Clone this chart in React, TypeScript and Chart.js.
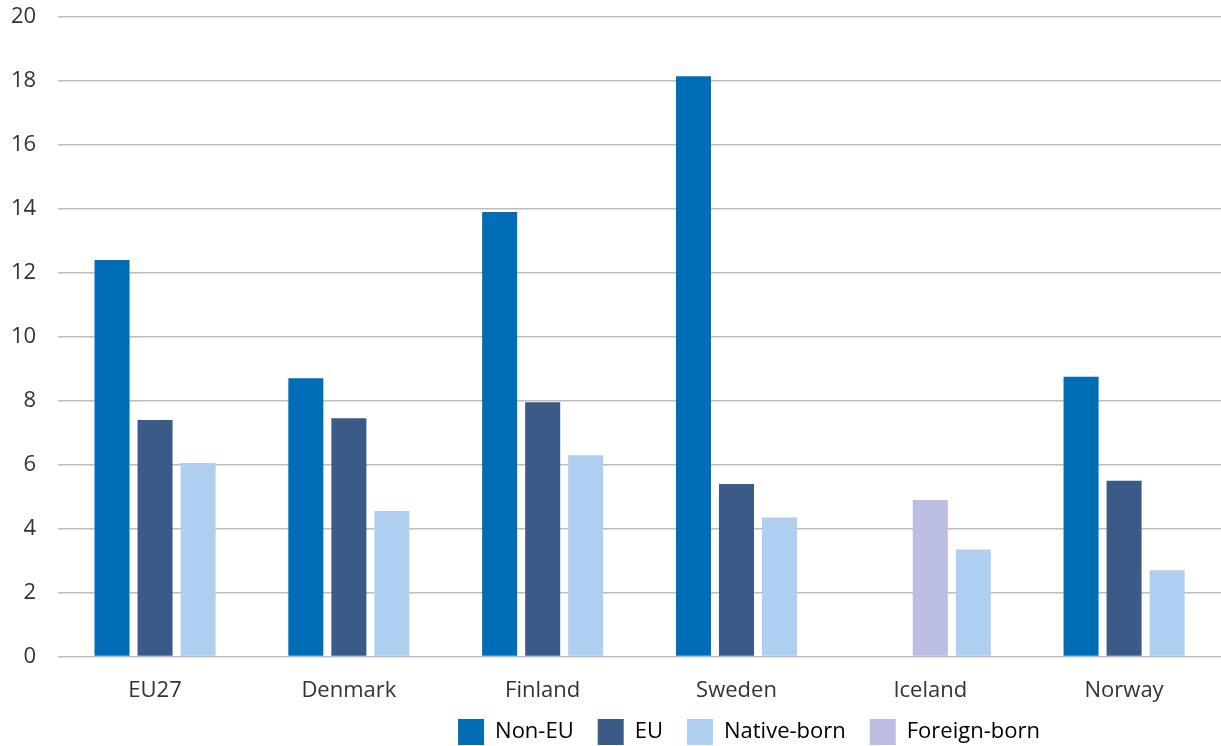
import React, { useEffect, useRef } from "react";
import { Chart, registerables } from "chart.js";

Chart.register(...registerables);

const categories = ["EU27", "Denmark", "Finland", "Sweden", "Iceland", "Norway"];
const nonEU = [12.4, 8.7, 13.9, 18.15, null, 8.75];
const eu = [7.4, 7.45, 7.95, 5.4, null, 5.5];
const foreignBorn = [null, null, null, null, 4.9, null];
const nativeBorn = [6.05, 4.55, 6.3, 4.35, 3.35, 2.7];
const yTicks = [0, 2, 4, 6, 8, 10, 12, 14, 16, 18, 20];

const C_NONEU = "#006EB6";
const C_EU = "#3A5A87";
const C_NATIVE = "#AECFF0";
const C_FOREIGN = "#BBBDE2";

const FONT = "'Open Sans', sans-serif";
const LEGEND_PAD = 24;

const legendShift = {
  id: "legendShift",
  afterLayout(chart: any) {
    const lg = chart.legend;
    if (lg) {
      lg.left += 144;
      lg.right += 144;
      const h = lg.bottom - lg.top;
      lg.top = 719 - LEGEND_PAD;
      lg.bottom = lg.top + h;
    }
  },
};

export default function App() {
  const ref = useRef<HTMLCanvasElement>(null);
  useEffect(() => {
    document.body.style.margin = "0";
    const euMerged = eu.map((v, i) => (v == null ? foreignBorn[i] : v));
    const euColors = eu.map((v, i) => (v == null && foreignBorn[i] != null ? C_FOREIGN : C_EU));
    const chart = new Chart(ref.current as HTMLCanvasElement, {
      type: "bar",
      data: {
        labels: categories,
        datasets: [
          { label: "Non-EU", data: nonEU, backgroundColor: C_NONEU },
          { label: "EU", data: euMerged, backgroundColor: euColors },
          { label: "Native-born", data: nativeBorn, backgroundColor: C_NATIVE },
        ],
      },
      plugins: [legendShift],
      options: {
        animation: false,
        responsive: true,
        maintainAspectRatio: false,
        datasets: { bar: { categoryPercentage: 0.666, barPercentage: 0.814 } },
        layout: { padding: { top: 0, left: -11, right: 0, bottom: -31 } },
        plugins: {
          tooltip: { enabled: false },
          legend: {
            position: "bottom",
            labels: {
              font: { family: FONT, size: 22 },
              color: "#333333",
              boxWidth: 26,
              boxHeight: 26,
              padding: LEGEND_PAD,
              generateLabels: () => [
                { text: "Non-EU", fillStyle: C_NONEU, strokeStyle: C_NONEU, lineWidth: 0, datasetIndex: 0 },
                { text: "EU", fillStyle: C_EU, strokeStyle: C_EU, lineWidth: 0, datasetIndex: 1 },
                { text: "Native-born", fillStyle: C_NATIVE, strokeStyle: C_NATIVE, lineWidth: 0, datasetIndex: 2 },
                { text: "Foreign-born", fillStyle: C_FOREIGN, strokeStyle: C_FOREIGN, lineWidth: 0, datasetIndex: 1 },
              ] as any,
            },
          },
        },
        scales: {
          x: {
            grid: { display: false },
            border: { display: false },
            ticks: { font: { family: FONT, size: 22 }, color: "#333333", padding: 13 },
          },
          y: {
            min: 0,
            max: 20,
            afterBuildTicks: (axis: any) => {
              axis.ticks = yTicks.map((v) => ({ value: v }));
            },
            afterFit: (axis: any) => {
              axis.paddingTop = 17;
            },
            grid: { color: "#BDBDBD", lineWidth: 1.5, drawTicks: false },
            border: { display: false },
            ticks: { font: { family: FONT, size: 22 }, color: "#333333", padding: 22 },
          },
        },
      },
    });
    return () => chart.destroy();
  }, []);
  return (
    <div style={{ position: "fixed", left: 0, top: 0, width: 1221, height: 746 }}>
      <canvas ref={ref} />
    </div>
  );
}
